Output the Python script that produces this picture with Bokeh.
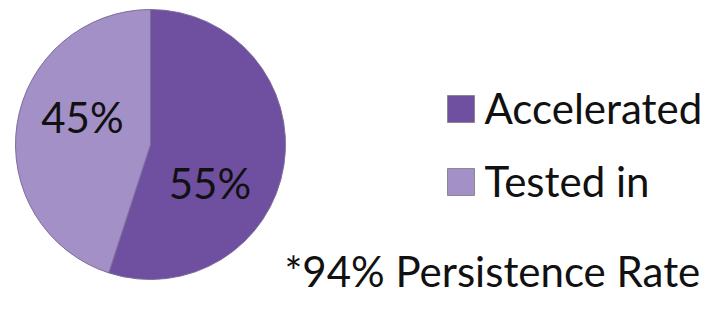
import math
from bokeh.plotting import figure
from bokeh.models import Range1d, ColumnDataSource
from bokeh.core.properties import value
from bokeh.embed import file_html
from bokeh.resources import INLINE

categories = ["Accelerated", "Tested in"]
shares = [55, 45]
colors = ["#6f4fa0", "#a290c6"]
footnote = "*94% Persistence Rate"

W, H = 706, 295
# data units = screen pixels; y measured upward from 311
p = figure(width=W, height=H, output_backend="svg", toolbar_location=None,
           x_range=Range1d(0, W), y_range=Range1d(311 - H, 311),
           min_border=0, min_border_left=0, min_border_right=0,
           min_border_top=0, min_border_bottom=0)
p.axis.visible = False
p.grid.visible = False
p.outline_line_color = None
p.background_fill_color = "white"
p.border_fill_color = "white"

FONT = value("Lato")
cx, cy, r = 150, 311 - 144, 135
total = sum(shares)
starts, ends = [], []
acc = 0.0
for s in shares:
    a0 = math.pi / 2 - 2 * math.pi * acc / total
    acc += s
    a1 = math.pi / 2 - 2 * math.pi * acc / total
    starts.append(a0)
    ends.append(a1)

src = ColumnDataSource(dict(start=starts, end=ends, color=colors,
                            label=[f"{s}%" for s in shares]))
p.wedge(x=cx, y=cy, radius=r, start_angle="start", end_angle="end",
        direction="clock", fill_color="color", line_color="#7d6c9c",
        line_width=1, source=src)

# percentage labels (layout: polar offsets from the pie centre)
label_polar = [(-32, 70), (157, 74)]
src.data["lx"] = [cx + d * math.cos(math.radians(a)) for a, d in label_polar]
src.data["ly"] = [cy + d * math.sin(math.radians(a)) - 1 for a, d in label_polar]
p.text(x="lx", y="ly", text="label", source=src, text_align="center",
       text_baseline="middle", text_font=FONT,
       text_font_size="42px", text_color="#111111")

# legend
leg_y = [311 - 108.5, 311 - 181.5]
p.rect(x=[460.5] * 2, y=leg_y, width=27, height=27, fill_color=colors,
       line_color="#8a8a8a", line_width=1)
p.text(x=[484] * 2, y=[v + 1 for v in leg_y], text=categories, text_align="left",
       text_baseline="middle", text_font=FONT,
       text_font_size="42px", text_color="#111111")

p.text(x=[284], y=[311 - 270], text=[footnote], text_align="left",
       text_baseline="middle", text_font=FONT,
       text_font_size="42px", text_color="#111111")

open("out.html", "w").write(file_html(p, INLINE))
